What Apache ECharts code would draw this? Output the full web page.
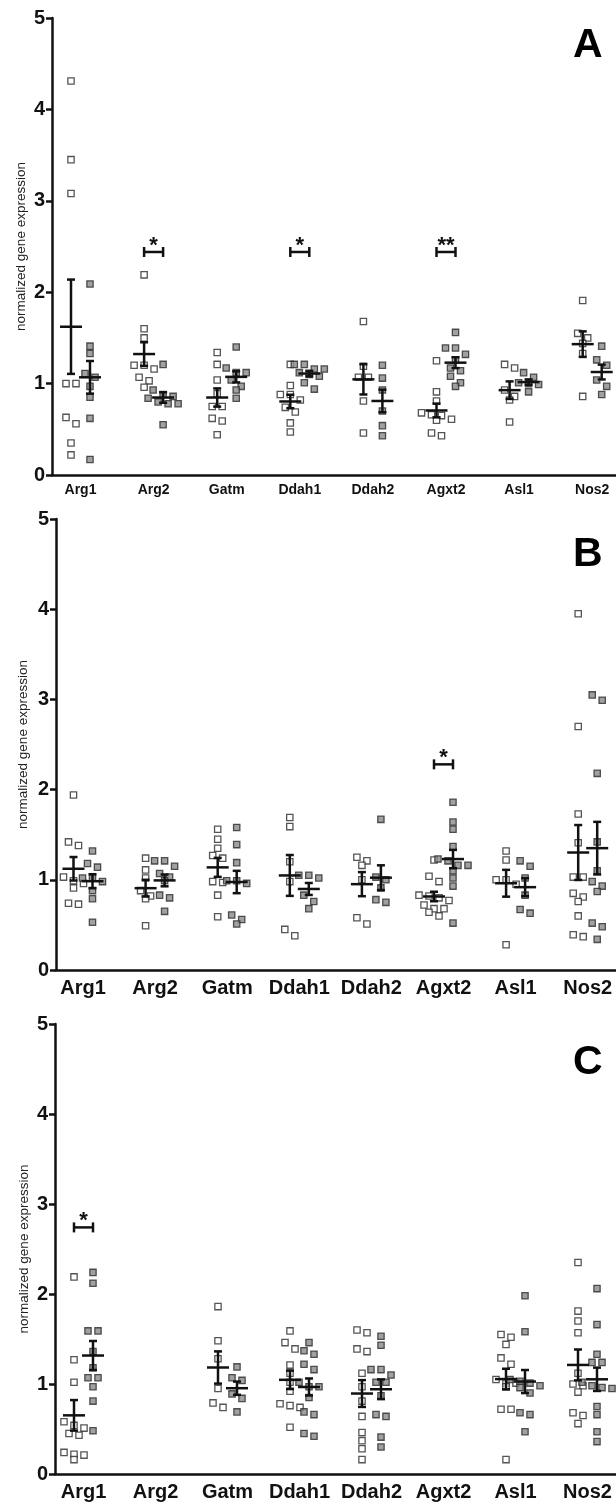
<!DOCTYPE html>
<html>
<head>
<meta charset="utf-8">
<script src="https://cdn.jsdelivr.net/npm/echarts@6/dist/echarts.min.js"></script>
<style>
html, body { margin: 0; padding: 0; background: #fff; }
#chart { width: 616px; height: 1505px; }
</style>
</head>
<body>
<div id="chart"></div>
<script>
var genes = ['Arg1', 'Arg2', 'Gatm', 'Ddah1', 'Ddah2', 'Agxt2', 'Asl1', 'Nos2'];
var yTicks = [0, 1, 2, 3, 4, 5];

// panel A  (white = control, grey = treated)
var ctrlA = [
    [4.31, 3.45, 3.08, 1.00, 1.00, 0.63, 0.56, 0.35, 0.22],
    [2.19, 1.60, 1.50, 1.20, 1.20, 1.16, 1.07, 1.03, 0.96],
    [1.34, 1.21, 1.04, 0.89, 0.75, 0.75, 0.62, 0.59, 0.44],
    [1.21, 0.98, 0.88, 0.88, 0.82, 0.74, 0.69, 0.57, 0.47],
    [1.68, 1.19, 1.07, 1.07, 0.81, 0.46],
    [1.25, 0.91, 0.81, 0.68, 0.66, 0.65, 0.61, 0.60, 0.46, 0.43],
    [1.21, 1.17, 0.93, 0.86, 0.82, 0.58],
    [1.91, 1.55, 1.50, 1.44, 1.33, 0.86]
];
var treatA = [
    [2.09, 1.41, 1.33, 1.11, 1.07, 0.97, 0.85, 0.62, 0.17],
    [1.21, 0.93, 0.88, 0.86, 0.84, 0.80, 0.78, 0.78, 0.55],
    [1.40, 1.17, 1.12, 1.12, 1.04, 0.97, 0.93, 0.84],
    [1.21, 1.21, 1.16, 1.16, 1.12, 1.10, 1.08, 1.01, 0.94],
    [1.20, 1.06, 0.93, 0.70, 0.54, 0.43],
    [1.56, 1.39, 1.39, 1.32, 1.26, 1.17, 1.14, 1.08, 1.01, 0.97],
    [1.12, 1.07, 1.01, 1.00, 0.99, 0.91],
    [1.41, 1.26, 1.20, 1.04, 0.97, 0.88]
];
// [gene index, bracket height, stars]
var sigA = [[1, 2.44, '*'], [3, 2.44, '*'], [5, 2.44, '**']];

// panel B
var ctrlB = [
    [1.94, 1.42, 1.38, 1.03, 0.99, 0.96, 0.91, 0.74, 0.73],
    [1.24, 1.11, 1.02, 0.88, 0.82, 0.79, 0.49],
    [1.56, 1.45, 1.35, 1.27, 1.24, 0.98, 0.97, 0.83, 0.59],
    [1.69, 1.59, 1.20, 0.98, 0.45, 0.38],
    [1.25, 1.21, 1.16, 1.00, 0.58, 0.51],
    [1.22, 1.04, 0.98, 0.83, 0.82, 0.80, 0.77, 0.72, 0.68, 0.68, 0.64, 0.60],
    [1.32, 1.22, 1.00, 1.00, 0.95, 0.28],
    [3.95, 2.70, 1.73, 1.41, 1.03, 1.03, 0.85, 0.81, 0.76, 0.60, 0.39, 0.37]
];
var treatB = [
    [1.32, 1.18, 1.14, 1.02, 1.02, 0.98, 0.88, 0.79, 0.53],
    [1.21, 1.21, 1.15, 1.07, 1.03, 0.99, 0.83, 0.80, 0.65],
    [1.58, 1.39, 1.19, 0.99, 0.99, 0.96, 0.61, 0.56, 0.51],
    [1.05, 1.05, 1.02, 0.83, 0.76, 0.68],
    [1.67, 1.03, 1.00, 0.91, 0.78, 0.75],
    [1.86, 1.64, 1.56, 1.37, 1.23, 1.21, 1.16, 1.16, 1.10, 1.02, 0.93, 0.52],
    [1.21, 1.15, 1.02, 0.83, 0.67, 0.63],
    [3.05, 2.99, 2.18, 1.42, 1.10, 0.98, 0.93, 0.87, 0.52, 0.48, 0.34]
];
var sigB = [[5, 2.28, '*']];

// panel C (no Arg2 / Agxt2 data)
var ctrlC = [
    [2.19, 1.27, 1.02, 0.58, 0.54, 0.51, 0.45, 0.43, 0.24, 0.22, 0.21, 0.16],
    [],
    [1.86, 1.48, 1.28, 0.95, 0.79, 0.74],
    [1.59, 1.46, 1.39, 1.21, 1.12, 1.02, 0.92, 0.78, 0.76, 0.74, 0.52],
    [1.60, 1.57, 1.39, 1.36, 1.12, 0.97, 0.81, 0.64, 0.46, 0.37, 0.28, 0.16],
    [],
    [1.55, 1.52, 1.44, 1.29, 1.22, 1.05, 1.01, 1.01, 0.97, 0.72, 0.72, 0.16],
    [2.35, 1.81, 1.70, 1.57, 1.12, 1.00, 0.98, 0.91, 0.68, 0.65, 0.56]
];
var treatC = [
    [2.24, 2.12, 1.59, 1.59, 1.36, 1.18, 1.07, 1.07, 0.97, 0.81, 0.48],
    [],
    [1.19, 1.07, 1.04, 0.89, 0.84, 0.69],
    [1.46, 1.37, 1.33, 1.22, 1.16, 1.02, 0.97, 0.97, 0.85, 0.69, 0.66, 0.45, 0.42],
    [1.53, 1.43, 1.16, 1.16, 1.10, 1.02, 1.02, 0.87, 0.66, 0.64, 0.41, 0.30],
    [],
    [1.98, 1.58, 1.05, 1.03, 1.01, 0.98, 0.96, 0.90, 0.68, 0.66, 0.47],
    [2.06, 1.66, 1.33, 1.24, 1.24, 1.02, 0.98, 0.96, 0.95, 0.75, 0.66, 0.47, 0.36]
];
var sigC = [[0, 2.74, '*']];

// layout of the three stacked panels (pixels)
var panels = [
    {ctrl: ctrlA, treat: treatA, sig: sigA, letter: 'A', left: 52, top: 18, bottom: 475, first: 80.5, step: 73.1, catFont: 14, catMargin: 8, nameGap: 24, letterLeft: 573, letterTop: 25},
    {ctrl: ctrlB, treat: treatB, sig: sigB, letter: 'B', left: 56, top: 519, bottom: 970, first: 83, step: 72.1, catFont: 20, catMargin: 8, nameGap: 26, letterLeft: 573, letterTop: 534},
    {ctrl: ctrlC, treat: treatC, sig: sigC, letter: 'C', left: 55, top: 1024, bottom: 1474, first: 83.5, step: 72, catFont: 20, catMargin: 8, nameGap: 24, letterLeft: 573, letterTop: 1042}
];

var FONT = '"Liberation Sans", Arial, Helvetica, sans-serif';
var W = 616;
var GROUP_OFF = 9.5;   // px from gene centre to each group
var INK = '#111';

function meanSem(v) {
    var n = v.length, m = 0, ss = 0;
    v.forEach(function (x) { m += x; });
    m /= n;
    v.forEach(function (x) { ss += (x - m) * (x - m); });
    return [m, Math.sqrt(ss / (n - 1)) / Math.sqrt(n)];
}

// points that would overlap vertically share a row and are spread sideways
function swarm(vals, yPx, xPx) {
    var order = vals.map(function (v, i) { return i; }).sort(function (a, b) { return vals[b] - vals[a]; });
    var off = vals.map(function () { return 0; });
    var row = [];
    function flush() {
        row.forEach(function (k, j) { off[k] = (j - (row.length - 1) / 2) * 10 / xPx; });
        row = [];
    }
    order.forEach(function (k) {
        if (row.length && (vals[row[0]] - vals[k]) * yPx >= 6.5) flush();
        row.push(k);
    });
    flush();
    return off;
}

var grids = [], xAxes = [], yAxes = [], series = [], titles = [];

panels.forEach(function (p, pi) {
    var h = p.bottom - p.top;
    var yPx = h / 5;
    var xMin = (p.left - p.first) / p.step;
    var xMax = (W - p.first) / p.step;
    var dx = GROUP_OFF / p.step;

    grids.push({left: p.left, top: p.top, width: W - p.left, height: h});
    xAxes.push({
        gridIndex: pi, type: 'value', min: xMin, max: xMax,
        axisLine: {show: true, onZero: false, lineStyle: {color: INK, width: 2.5}},
        axisTick: {show: false},
        splitLine: {show: false},
        axisLabel: {
            customValues: genes.map(function (g, i) { return i; }),
            formatter: function (v) { return genes[Math.round(v)]; },
            fontFamily: FONT, fontWeight: 'bold', fontSize: p.catFont, color: INK, margin: p.catMargin
        }
    });
    yAxes.push({
        gridIndex: pi, type: 'value', min: 0, max: 5, interval: 1,
        axisLine: {show: true, onZero: false, lineStyle: {color: INK, width: 2.5}},
        axisTick: {show: true, length: 6, lineStyle: {color: INK, width: 2.5}},
        splitLine: {show: false},
        axisLabel: {
            customValues: yTicks,
            fontFamily: FONT, fontWeight: 'bold', fontSize: 20, color: INK, margin: 7
        },
        name: 'normalized gene expression', nameLocation: 'middle', nameGap: p.nameGap,
        nameMoveOverlap: false,
        nameTextStyle: {fontFamily: FONT, fontSize: 13.5, color: '#222'}
    });
    titles.push({
        text: p.letter, left: p.letterLeft, top: p.letterTop, padding: 0,
        textStyle: {fontFamily: FONT, fontWeight: 'bold', fontSize: 41, color: '#000'}
    });

    var ctrlPts = [], treatPts = [], bars = [];
    genes.forEach(function (g, gi) {
        [[p.ctrl[gi], -dx, ctrlPts], [p.treat[gi], dx, treatPts]].forEach(function (grp) {
            var vals = grp[0];
            if (!vals.length) return;
            var off = swarm(vals, yPx, p.step);
            vals.forEach(function (v, k) { grp[2].push([gi + grp[1] + off[k], v]); });
            var ms = meanSem(vals);
            bars.push([gi + grp[1], ms[0], ms[1]]);
        });
    });

    var mk = {type: 'scatter', xAxisIndex: pi, yAxisIndex: pi, symbol: 'rect', symbolSize: 6.3, z: 3, silent: true};
    series.push(Object.assign({}, mk, {
        name: 'control ' + p.letter, data: ctrlPts,
        itemStyle: {color: '#fff', borderColor: '#2a2a2a', borderWidth: 1.3}
    }));
    series.push(Object.assign({}, mk, {
        name: 'treated ' + p.letter, data: treatPts,
        itemStyle: {color: '#8a8a8a', borderColor: '#2a2a2a', borderWidth: 1.3}
    }));

    // mean +/- SEM
    series.push({
        type: 'custom', xAxisIndex: pi, yAxisIndex: pi, z: 5, silent: true,
        data: bars,
        renderItem: function (params, api) {
            var x = api.value(0), m = api.value(1), s = api.value(2);
            var c = api.coord([x, m]), t = api.coord([x, m + s]), b = api.coord([x, m - s]);
            var st = {stroke: INK, lineWidth: 2.5};
            return {type: 'group', children: [
                {type: 'line', shape: {x1: c[0] - 11, y1: c[1], x2: c[0] + 11, y2: c[1]}, style: st},
                {type: 'line', shape: {x1: c[0], y1: t[1], x2: c[0], y2: b[1]}, style: st},
                {type: 'line', shape: {x1: c[0] - 4, y1: t[1], x2: c[0] + 4, y2: t[1]}, style: st},
                {type: 'line', shape: {x1: c[0] - 4, y1: b[1], x2: c[0] + 4, y2: b[1]}, style: st}
            ]};
        }
    });

    // significance brackets
    var sig = p.sig;
    series.push({
        type: 'custom', xAxisIndex: pi, yAxisIndex: pi, z: 5, silent: true,
        data: sig.map(function (s) { return [s[0], s[1]]; }),
        renderItem: function (params, api) {
            var gi = api.value(0), y = api.value(1);
            var a = api.coord([gi - dx, y]), b = api.coord([gi + dx, y]);
            var st = {stroke: INK, lineWidth: 2.5};
            return {type: 'group', children: [
                {type: 'line', shape: {x1: a[0], y1: a[1], x2: b[0], y2: b[1]}, style: st},
                {type: 'line', shape: {x1: a[0], y1: a[1] - 5, x2: a[0], y2: a[1] + 5}, style: st},
                {type: 'line', shape: {x1: b[0], y1: b[1] - 5, x2: b[0], y2: b[1] + 5}, style: st},
                {type: 'text', x: (a[0] + b[0]) / 2, y: a[1] - 6, style: {
                    text: sig[params.dataIndex][2], fill: INK, font: 'bold 22px ' + FONT,
                    align: 'center', verticalAlign: 'middle'
                }}
            ]};
        }
    });
});

var chart = echarts.init(document.getElementById('chart'), null, {renderer: 'canvas'});
chart.setOption({
    backgroundColor: '#fff',
    animation: false,
    title: titles,
    grid: grids,
    xAxis: xAxes,
    yAxis: yAxes,
    series: series
});
</script>
</body>
</html>
